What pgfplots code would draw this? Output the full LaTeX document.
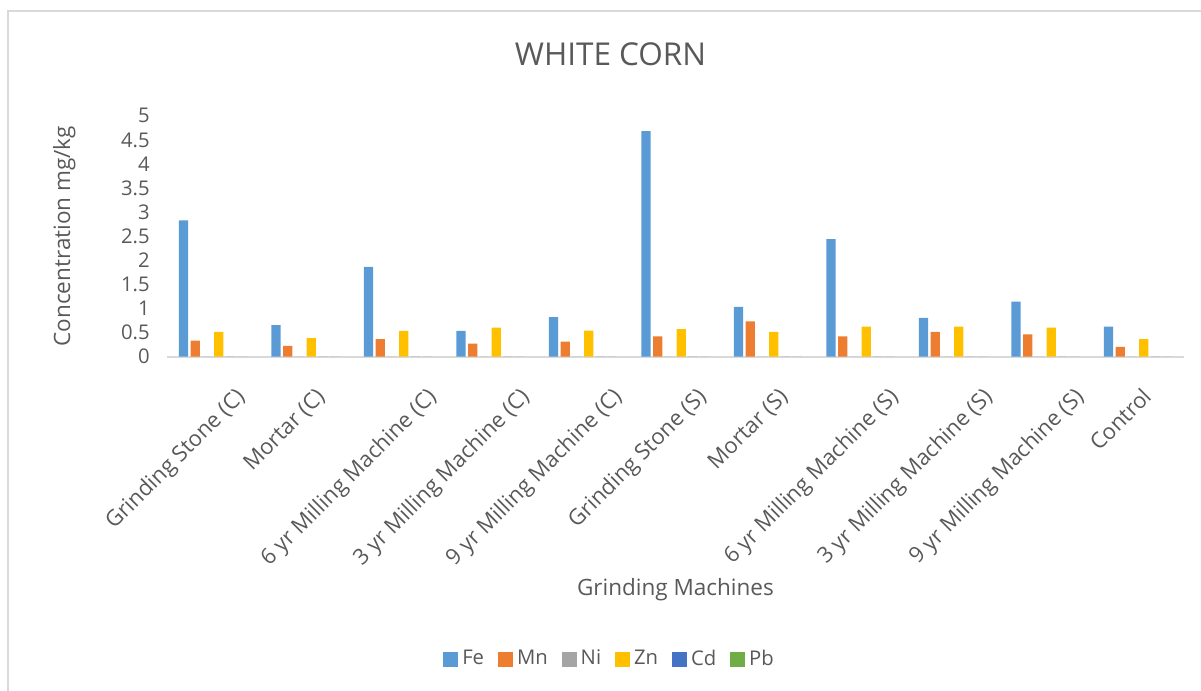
\documentclass[border=0pt]{standalone}
\usepackage{fontspec}
\setmainfont{Open Sans}
\usepackage{pgfplots}
\usepackage{pgfplotstable}
\pgfplotsset{compat=1.18}

\definecolor{cFe}{HTML}{5B9BD5}
\definecolor{cMn}{HTML}{ED7D31}
\definecolor{cNi}{HTML}{A5A5A5}
\definecolor{cZn}{HTML}{FFC000}
\definecolor{cCd}{HTML}{4472C4}
\definecolor{cPb}{HTML}{70AD47}
\definecolor{txt}{HTML}{595959}
\definecolor{rule}{HTML}{D9D9D9}

% concentrations (mg/kg) per grinding machine
\pgfplotstableread{
x  Fe    Mn    Ni  Zn    Cd  Pb
0  2.83  0.33  0   0.51  0   0
1  0.65  0.22  0   0.38  0   0
2  1.86  0.36  0   0.53  0   0
3  0.53  0.27  0   0.60  0   0
4  0.82  0.31  0   0.54  0   0
5  4.68  0.42  0   0.57  0   0
6  1.03  0.73  0   0.51  0   0
7  2.44  0.42  0   0.62  0   0
8  0.80  0.51  0   0.62  0   0
9  1.14  0.46  0   0.60  0   0
10 0.62  0.20  0   0.36  0   0
}\datatable

\pgfplotsset{
  sqleg/.style={legend image code/.code={\fill[##1] (0bp,-3.75bp) rectangle (7.5bp,3.75bp);}},
}

\begin{document}
\begin{tikzpicture}
\useasboundingbox (0,0) rectangle (600.5bp,-345.5bp);
\draw[rule, line width=0.75bp] (4bp,-5.5bp) rectangle (620bp,-360bp);
\begin{axis}[
  at={(83.35bp,-178.25bp)}, anchor=south west,
  scale only axis, width=508.75bp, height=120.35bp,
  xmin=-0.5, xmax=10.5, ymin=0, ymax=5,
  ybar, bar width=0.1,
  axis x line*=bottom, axis y line*=left,
  x axis line style={draw=rule, line width=1bp},
  y axis line style={draw=none},
  major tick length=0pt, tick style={draw=none},
  ytick={0,0.5,1,1.5,2,2.5,3,3.5,4,4.5,5},
  yticklabels={0,0.5,1,1.5,2,2.5,3,3.5,4,4.5,5},
  % label anchors sit a little right of each category, longer names further
  xtick={0.357,1.222,2.428,3.432,4.432,5.346,6.227,7.422,8.438,9.427,10.162},
  xticklabels={Grinding Stone (C),Mortar (C),6 yr Milling Machine (C),3 yr Milling Machine (C),9 yr Milling Machine (C),Grinding Stone (S),Mortar (S),6 yr Milling Machine (S),3 yr Milling Machine (S),9 yr Milling Machine (S),Control},
  ticklabel style={text=txt},
  yticklabel style={anchor=east, inner sep=0pt, xshift=-8.35bp, font=\fontsize{10.125bp}{12bp}\selectfont},
  xticklabel style={anchor=base east, inner sep=0pt, yshift=-20.75bp, rotate=45, font=\fontsize{11bp}{13bp}\selectfont},
  title={WHITE CORN},
  every axis title/.style={at={(axis description cs:0.4362,1.2576)}, anchor=center, inner sep=0pt,
    font=\fontsize{15.75bp}{18bp}\selectfont, text=txt},
  xlabel={Grinding Machines},
  every axis x label/.style={at={(axis description cs:0.5,-0.991)}, anchor=base, inner sep=0pt,
    font=\fontsize{11.25bp}{13bp}\selectfont, text=txt},
  ylabel={Concentration mg/kg},
  every axis y label/.style={at={(axis description cs:-0.095,0.5)}, rotate=90, anchor=base, inner sep=0pt,
    font=\fontsize{11.25bp}{13bp}\selectfont, text=txt},
  legend columns=6,
  legend style={at={(axis description cs:0.4362,-1.2568)}, anchor=center, draw=none, fill=none,
    font=\fontsize{10.125bp}{12bp}\selectfont, text=txt,
    /tikz/every even column/.append style={column sep=5bp}},
]
\addplot[fill=cFe, draw=none, bar shift=-0.3175, sqleg] table[x=x, y=Fe] {\datatable};
\addlegendentry{Fe}
\addplot[fill=cMn, draw=none, bar shift=-0.1905, sqleg] table[x=x, y=Mn] {\datatable};
\addlegendentry{Mn}
\addplot[fill=cNi, draw=none, bar shift=-0.0635, sqleg] table[x=x, y=Ni] {\datatable};
\addlegendentry{Ni}
\addplot[fill=cZn, draw=none, bar shift=0.0635, sqleg] table[x=x, y=Zn] {\datatable};
\addlegendentry{Zn}
\addplot[fill=cCd, draw=none, bar shift=0.1905, sqleg] table[x=x, y=Cd] {\datatable};
\addlegendentry{Cd}
\addplot[fill=cPb, draw=none, bar shift=0.3175, sqleg] table[x=x, y=Pb] {\datatable};
\addlegendentry{Pb}
\end{axis}
\end{tikzpicture}
\end{document}
